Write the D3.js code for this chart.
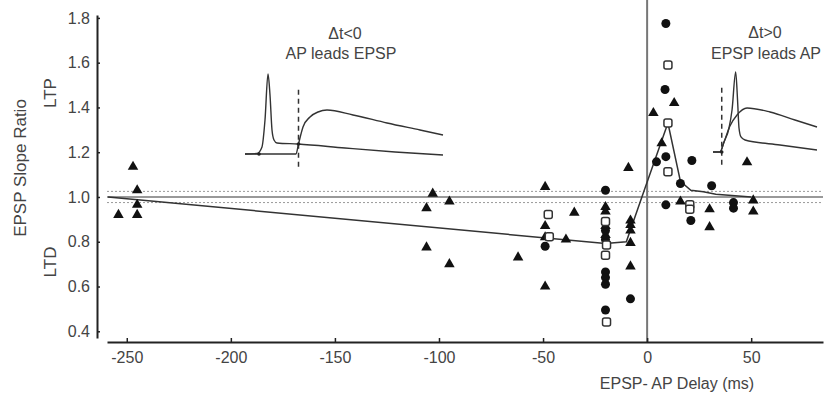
<!DOCTYPE html>
<html>
<head>
<meta charset="utf-8">
<script src="https://cdn.jsdelivr.net/npm/d3@7"></script>
<style>
  body { margin: 0; background: #fff; }
  text { font-family: "Liberation Sans", Arial, sans-serif; fill: #444; }
</style>
</head>
<body>
<svg id="svg"></svg>
<script>
var width = 830, height = 397;

// data (delay in ms, EPSP slope ratio)
var triDelay = [-254, -247, -245, -245, -245, -103, -95, -106, -106, -95, -62, -49, -49, -49, -39, -35, -49,
	-20, -20, -20, -20, -8, -8, -8, -8, -8, -9, 13, 3, 7, 16, 48, 30, 51, 51, 30];
var triRatio = [0.92, 1.135, 1.03, 0.965, 0.92, 1.015, 0.98, 0.95, 0.775, 0.70, 0.73, 1.045, 0.87, 0.82, 0.81, 0.93, 0.60,
	0.955, 0.935, 0.87, 0.83, 0.895, 0.875, 0.85, 0.795, 0.69, 1.13, 1.42, 1.375, 1.24, 0.98, 1.155, 0.865, 0.985, 0.935, 0.945];

var circDelay = [-20, -20, -20, -20, -20, -20, -20, -8, -49, 9, 8.6, 9, 4.5, 21.5, 16, 9, 31, 21, 41.5, 41.5];
var circRatio = [1.03, 0.85, 0.81, 0.665, 0.64, 0.61, 0.495, 0.545, 0.78, 1.775, 1.48, 1.18, 1.157, 1.163, 1.06, 0.965, 1.05, 0.895, 0.975, 0.95];

var sqDelay = [-47.5, -47, -20, -19.5, -20, -19.5, 10, 10, 10, 20.5, 20.5];
var sqRatio = [0.922, 0.822, 0.89, 0.785, 0.74, 0.442, 1.59, 1.33, 1.113, 0.965, 0.945];

var fitDelay = [-259, -20, -10, -1, 10, 16, 21, 27, 33, 50];
var fitRatio = [1.0, 0.792, 0.80, 1.04, 1.33, 1.07, 1.03, 1.023, 1.012, 1.0];

var xTicks = [-250, -200, -150, -100, -50, 0, 50];
var yTicks = [0.4, 0.6, 0.8, 1.0, 1.2, 1.4, 1.6, 1.8];

// inset traces (arbitrary units: time 0-100, voltage 0-100)
var leftApT = [0, 6, 8.5, 10, 11.5, 12.5, 13.5, 14.5, 16, 26.5, 50, 75, 99];
var leftApV = [0, 0.6, 8.8, 42.5, 100, 73.8, 30, 17.5, 13.8, 12.5, 7.5, 2.5, -1.3];
var leftEpspT = [0, 25.5, 26.75, 29, 32.5, 36.5, 41, 54, 71, 87.5, 99];
var leftEpspV = [0, 0, 12.5, 33.8, 46.3, 52.5, 55, 48.8, 38.8, 30, 23.8];
var rightEpspT = [0, 6.7, 10.6, 16.3, 23.1, 32.7, 54.8, 78.8, 100];
var rightEpspV = [0, 0, 12.5, 32.5, 46.3, 55, 50, 40, 31.3];
var rightApT = [0, 6.7, 10.6, 15.4, 18.3, 21.8, 23.6, 25, 26.9, 30.8, 64.4, 100];
var rightApV = [0, 0, 12.5, 30, 52.5, 100, 65, 30, 18.8, 15, 8.8, 2.5];

var svg = d3.select("#svg")
	.attr("width", width)
	.attr("height", height);

var x = d3.scaleLinear().domain([-259.5, 84.5]).range([107, 823]);
var y = d3.scaleLinear().domain([0.37, 1.813]).range([338, 15]);

// reference band around 1.0
svg.append("line")
	.attr("x1", x(-259.5)).attr("x2", x(84.5))
	.attr("y1", y(1.0)).attr("y2", y(1.0))
	.attr("stroke", "#777").attr("stroke-width", 1.6);
[1.025, 0.975].forEach(function(v) {
	svg.append("line")
		.attr("x1", x(-259.5)).attr("x2", x(84.5))
		.attr("y1", y(v)).attr("y2", y(v))
		.attr("stroke", "#999").attr("stroke-width", 1)
		.attr("stroke-dasharray", "2,2");
});

// zero delay line
svg.append("line")
	.attr("x1", x(0)).attr("x2", x(0))
	.attr("y1", 0).attr("y2", y(0.37) + 4)
	.attr("stroke", "#777").attr("stroke-width", 2);

// axes
var xAxis = svg.append("g")
	.attr("transform", "translate(0," + (y(0.37) + 4) + ")")
	.call(d3.axisBottom(x).tickValues(xTicks).tickSize(-4).tickSizeOuter(0).tickPadding(10)
		.tickFormat(function(d) { return d < 0 ? "-" + Math.abs(d) : d; }));
var yAxis = svg.append("g")
	.attr("transform", "translate(97,0)")
	.call(d3.axisLeft(y).tickValues(yTicks).tickSize(-3).tickSizeOuter(0).tickPadding(7)
		.tickFormat(d3.format(".1f")));
[xAxis, yAxis].forEach(function(a) {
	a.select(".domain").attr("stroke", "#222").attr("stroke-width", 2);
	a.selectAll(".tick line").attr("stroke", "#222").attr("stroke-width", 1.5);
	a.selectAll(".tick text").attr("font-size", "16px").attr("fill", "#444");
});

// fitted curve
var fitLine = d3.line()
	.x(function(d, i) { return x(fitDelay[i]); })
	.y(function(d, i) { return y(fitRatio[i]); });
svg.append("path")
	.attr("d", fitLine(fitDelay))
	.attr("fill", "none")
	.attr("stroke", "#333")
	.attr("stroke-width", 1.5);

// markers
var tri = d3.symbol().type(d3.symbolTriangle).size(48);
svg.selectAll(".tri")
	.data(triDelay)
	.enter().append("path")
	.attr("class", "tri")
	.attr("d", tri)
	.attr("transform", function(d, i) { return "translate(" + x(d) + "," + y(triRatio[i]) + ")"; })
	.attr("fill", "#111");

svg.selectAll(".circ")
	.data(circDelay)
	.enter().append("circle")
	.attr("class", "circ")
	.attr("cx", function(d) { return x(d); })
	.attr("cy", function(d, i) { return y(circRatio[i]); })
	.attr("r", 4.5)
	.attr("fill", "#111");

svg.selectAll(".sq")
	.data(sqDelay)
	.enter().append("rect")
	.attr("class", "sq")
	.attr("x", function(d) { return x(d) - 4; })
	.attr("y", function(d, i) { return y(sqRatio[i]) - 4; })
	.attr("width", 8).attr("height", 8)
	.attr("rx", 2)
	.attr("fill", "#fff")
	.attr("stroke", "#333")
	.attr("stroke-width", 1.5);

// axis titles
svg.append("text")
	.attr("transform", "translate(26,168) rotate(-90)")
	.attr("text-anchor", "middle")
	.attr("font-size", "17px")
	.text("EPSP Slope Ratio");
svg.append("text")
	.attr("transform", "translate(56,93) rotate(-90)")
	.attr("text-anchor", "middle")
	.attr("font-size", "17px")
	.text("LTP");
svg.append("text")
	.attr("transform", "translate(56,262) rotate(-90)")
	.attr("text-anchor", "middle")
	.attr("font-size", "17px")
	.text("LTD");
svg.append("text")
	.attr("x", 677).attr("y", 389)
	.attr("text-anchor", "middle")
	.attr("font-size", "16px")
	.text("EPSP- AP Delay (ms)");

// insets
function inset(x0, x1, base, top, traces, dashT, dots) {
	var tx = d3.scaleLinear().domain([0, 100]).range([x0, x1]);
	var ty = d3.scaleLinear().domain([0, 100]).range([base, top]);
	traces.forEach(function(tr) {
		var line = d3.line()
			.curve(d3.curveMonotoneX)
			.x(function(d, i) { return tx(tr[0][i]); })
			.y(function(d, i) { return ty(tr[1][i]); });
		svg.append("path")
			.attr("d", line(tr[0]))
			.attr("fill", "none")
			.attr("stroke", "#333")
			.attr("stroke-width", 1.4);
	});
	svg.append("line")
		.attr("x1", tx(dashT)).attr("x2", tx(dashT))
		.attr("y1", ty(-16)).attr("y2", ty(84))
		.attr("stroke", "#333").attr("stroke-width", 1.5)
		.attr("stroke-dasharray", "5,4");
	dots.forEach(function(p) {
		svg.append("circle")
			.attr("cx", tx(p[0])).attr("cy", ty(p[1]))
			.attr("r", 1.8).attr("fill", "#222");
	});
}
inset(245, 445, 154, 74, [[leftApT, leftApV], [leftEpspT, leftEpspV]], 26.75, [[7, 0], [26.75, 12.5]]);
inset(713, 817, 152, 72, [[rightEpspT, rightEpspV], [rightApT, rightApV]], 8.4, [[8.4, 0]]);

var labels = [
	{ x: 345, y: 39, t: "\u0394t<0" },
	{ x: 341, y: 59, t: "AP leads EPSP" },
	{ x: 765, y: 38, t: "\u0394t>0" },
	{ x: 766, y: 59, t: "EPSP leads AP" }
];
svg.selectAll(".lbl")
	.data(labels)
	.enter().append("text")
	.attr("class", "lbl")
	.attr("x", function(d) { return d.x; })
	.attr("y", function(d) { return d.y; })
	.attr("text-anchor", "middle")
	.attr("font-size", "16px")
	.text(function(d) { return d.t; });
</script>
</body>
</html>
